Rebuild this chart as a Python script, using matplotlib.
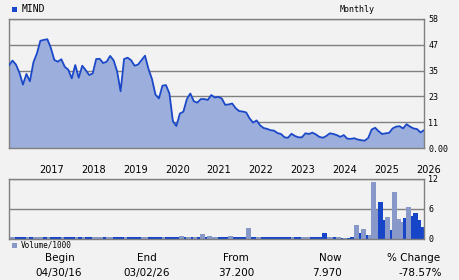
# -*- coding: utf-8 -*-
"""
Monthly price / volume chart for MIND.
"""

import matplotlib
matplotlib.use('Agg')
import matplotlib.pyplot as plt
from matplotlib.patches import Rectangle

# monthly close, 04/2016 .. 03/2026
price = [37.2, 39.3, 37.5, 33.8, 28.5, 33.3, 30.0, 38.5, 42.5, 48.2,
         48.6, 48.9, 45.0, 39.6, 38.8, 39.9, 36.5, 35.2, 31.3, 37.3,
         31.6, 37.0, 35.0, 32.8, 33.5, 40.0, 40.1, 38.2, 38.8, 41.4,
         39.4, 34.5, 25.5, 40.0, 40.6, 39.5, 37.0, 37.5, 39.5, 41.5,
         35.5, 31.0, 24.0, 22.3, 28.0, 28.3, 24.5, 12.0, 9.9, 15.5,
         16.3, 22.0, 24.5, 21.0, 20.4, 22.0, 22.0, 21.6, 23.8, 22.7,
         23.0, 22.3, 19.4, 19.6, 20.0, 17.9, 16.6, 16.4, 16.0, 13.3,
         11.4, 12.4, 10.2, 9.0, 8.6, 8.0, 7.8, 6.7, 6.3, 4.8,
         4.6, 6.4, 5.4, 4.8, 4.8, 6.6, 6.3, 6.9, 6.1, 5.0,
         4.6, 5.4, 6.6, 6.3, 5.8, 5.0, 5.8, 4.2, 4.1, 4.4,
         3.8, 3.5, 3.3, 4.5, 8.3, 9.1, 7.5, 6.3, 6.6, 6.8,
         8.8, 9.6, 9.8, 8.8, 10.7, 9.6, 8.8, 8.5, 7.0, 7.97]

# monthly volume / 1000
volume = [0.35, 0.35, 0.35, 0.35, 0.35, 0.35, 0.35, 0.35, 0.35, 0.35,
          0.35, 0.35, 0.35, 0.35, 0.35, 0.35, 0.35, 0.35, 0.35, 0.35,
          0.35, 0.35, 0.35, 0.35, 0.35, 0.35, 0.35, 0.35, 0.35, 0.35,
          0.35, 0.35, 0.35, 0.35, 0.35, 0.35, 0.35, 0.35, 0.35, 0.35,
          0.35, 0.35, 0.35, 0.35, 0.35, 0.35, 0.35, 0.35, 0.35, 0.35,
          0.6, 0.35, 0.5, 0.35, 0.35, 0.35, 1.0, 0.35, 0.6, 0.35,
          0.35, 0.35, 0.35, 0.35, 0.6, 0.35, 0.35, 0.35, 0.35, 2.3,
          0.35, 0.35, 0.5, 0.35, 0.35, 0.35, 0.35, 0.35, 0.35, 0.35,
          0.35, 0.35, 0.35, 0.35, 0.35, 0.35, 0.45, 0.35, 0.35, 0.35,
          0.35, 1.2, 0.35, 0.35, 0.35, 0.35, 0.15, 0.25, 0.3, 0.5,
          2.8, 1.2, 2.0, 0.8, 0.8, 11.4, 5.8, 7.4, 3.8, 4.4,
          1.8, 9.4, 4.0, 3.4, 4.2, 6.4, 4.6, 5.2, 3.8, 2.4]

# 1 = dark bar, 0 = light bar
vol_dark = [0, 0, 0, 1, 1, 1, 0, 1, 0, 0,
            0, 1, 0, 1, 1, 1, 0, 1, 1, 1,
            0, 1, 0, 1, 1, 0, 0, 0, 1, 0,
            0, 1, 1, 1, 0, 1, 1, 1, 1, 0,
            0, 1, 1, 1, 1, 0, 1, 1, 1, 1,
            0, 1, 0, 1, 0, 1, 0, 1, 0, 0,
            0, 1, 1, 1, 0, 1, 1, 1, 1, 0,
            1, 1, 0, 1, 1, 1, 1, 1, 1, 1,
            1, 1, 0, 1, 1, 0, 0, 1, 1, 1,
            1, 1, 0, 0, 1, 0, 1, 0, 1, 1,
            0, 1, 0, 1, 0, 0, 0, 1, 1, 0,
            1, 0, 0, 0, 1, 0, 1, 1, 1, 1]

years = [2017, 2018, 2019, 2020, 2021, 2022, 2023, 2024, 2025, 2026]
price_ticks = [0, 11.6, 23.2, 34.8, 46.4, 58]
price_labels = ['0.00', '11', '23', '35', '47', '58']
vol_ticks = [0, 6, 12]
vol_labels = ['0', '6', '12']
summary_heads = ['Begin', 'End', 'From', 'Now', '% Change']
summary_vals = ['04/30/16', '03/02/26', '37.200', '7.970', '-78.57%']

BG = '#f2f2f2'
GRID = '#808080'
LINE = '#1a48c8'
FILL = '#9caedc'
DARK = '#1645c8'
LIGHT = '#8898c8'
MONO = 'DejaVu Sans Mono'

W, H = 460., 280.
x = list(range(len(price)))       # month index, 0 = Apr 2016

fig = plt.figure(figsize=(W/100, H/100), dpi=100)
fig.patch.set_facecolor(BG)

def fig_box(left, top, right, bottom):
    """Pixel box -> figure fraction rect."""
    return [left/W, 1 - bottom/H, (right-left)/W, (bottom-top)/H]

# ---- price panel
ax = fig.add_axes(fig_box(9, 19, 424, 148))
ax.set_facecolor(BG)
ax.fill_between(x, price, 0, color=FILL, lw=0, zorder=2)
ax.plot(x, price, color=LINE, lw=1.3, zorder=3)
ax.set_xlim(0, len(price)-1)
ax.set_ylim(0, 58)
ax.set_yticks(price_ticks)
ax.set_yticklabels(price_labels)
ax.yaxis.tick_right()
ax.tick_params(axis='y', length=0, pad=3, labelsize=6,
               labelfontfamily=MONO)
ax.set_xticks([])
ax.grid(axis='y', color=GRID, lw=1, zorder=1)
for s in ax.spines.values():
    s.set_color(GRID)
    s.set_linewidth(1)

# year labels sit just right of each January
for yr in years:
    i = (yr - 2016)*12 - 3
    ax.text(i - 0.3, -0.17, str(yr), transform=ax.get_xaxis_transform(),
            ha='left', va='center', fontsize=7, color='black')

# ---- volume panel
av = fig.add_axes(fig_box(9, 179, 424, 239))
av.set_facecolor(BG)
bars = av.bar([i - 1.15 for i in x], volume, width=1.43, align='edge',
              color=[DARK if d else LIGHT for d in vol_dark], lw=0)
for p, v in zip(bars, volume):   # taller bars drawn in front
    p.set_zorder(2 + v/100.)
av.set_xlim(0, len(price)-1)
av.set_ylim(0, 12)
av.set_yticks(vol_ticks)
av.set_yticklabels(vol_labels)
av.yaxis.tick_right()
av.tick_params(axis='y', length=0, pad=3, labelsize=6,
               labelfontfamily=MONO)
av.set_xticks([])
av.grid(axis='y', color=GRID, lw=1, zorder=1)
for s in av.spines.values():
    s.set_color(GRID)
    s.set_linewidth(1)

# ---- header and legend
fig.add_artist(Rectangle((12.5/W, 1 - 11.5/H), 4.5/W, 4.5/H,
                         transform=fig.transFigure, color=LINE, lw=0))
fig.text(22/W, 1 - 9/H, 'MIND', fontsize=7, family=MONO,
         ha='left', va='center')
fig.text(357/W, 1 - 9/H, 'Monthly', fontsize=6, family=MONO,
         ha='center', va='center')
fig.add_artist(Rectangle((12.5/W, 1 - 247.5/H), 4.5/W, 4.5/H,
                         transform=fig.transFigure, color=LIGHT, lw=0))
fig.text(21/W, 1 - 245/H, 'Volume/1000', fontsize=5.5, family=MONO,
         ha='left', va='center')

# ---- summary row
head_x = [60, 147, 236, 330, 414]
val_x = [59, 147, 236, 327, 420]
for hx, vx, hd, vl in zip(head_x, val_x, summary_heads, summary_vals):
    fig.text(hx/W, 1 - 258/H, hd, fontsize=7.5, ha='center', va='center')
    fig.text(vx/W, 1 - 273/H, vl, fontsize=7.5, ha='center', va='center')

fig.savefig('out.png', dpi=100, facecolor=BG)
